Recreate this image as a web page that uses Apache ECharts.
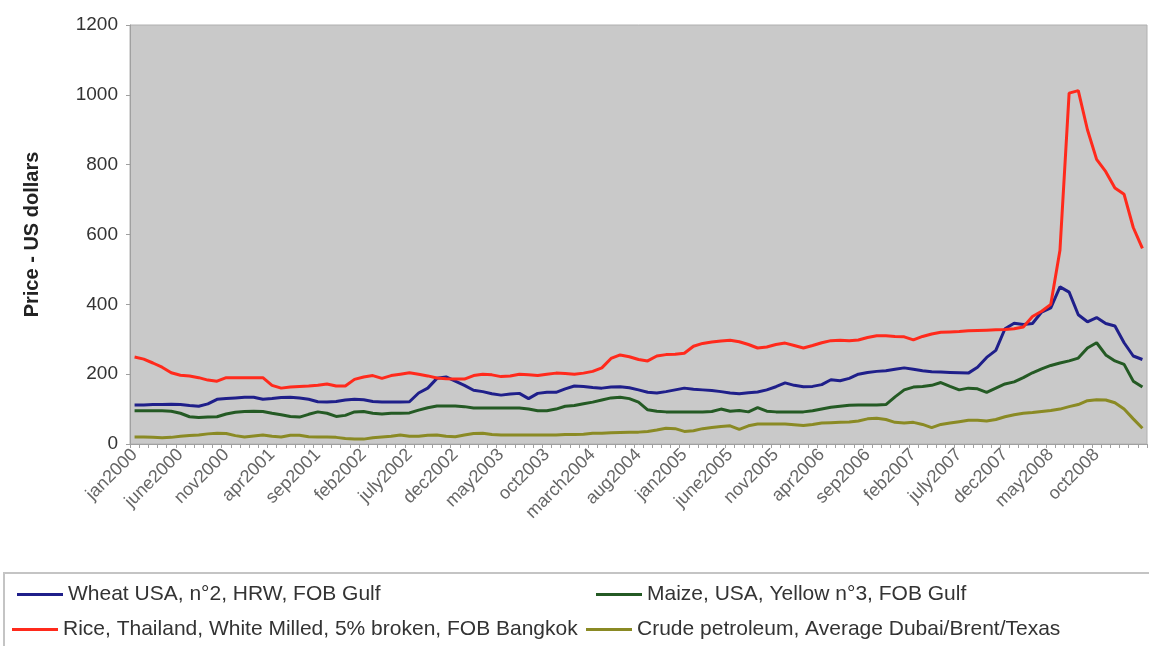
<!DOCTYPE html>
<html>
<head>
<meta charset="utf-8">
<script src="https://cdn.jsdelivr.net/npm/echarts@6/dist/echarts.min.js"></script>
<style>
    html, body {margin: 0; padding: 0; background: #fff;}
    #chart {width: 1149px; height: 646px;}
</style>
</head>
<body>
<div id="chart"></div>
<script>
// month names as they appear on the axis
const monthNames = ['jan', 'feb', 'march', 'apr', 'may', 'june', 'july', 'aug', 'sep', 'oct', 'nov', 'dec'];
const startYear = 2000;
const monthCount = 111; // jan2000 .. march2009
const lastLabelIndex = 105; // oct2008 is the last label shown

const yTicks = {min: 0, max: 1200, step: 200};

const seriesNames = [
    'Wheat USA, n°2, HRW, FOB Gulf',
    'Maize, USA, Yellow n°3, FOB Gulf',
    'Rice, Thailand, White Milled, 5% broken, FOB Bangkok',
    'Crude petroleum, Average Dubai/Brent/Texas'
];

// US dollars, one value per month
const wheat = [
    112, 112, 113, 113, 114, 113, 110, 108, 115, 128,
    130, 132, 134, 134, 128, 130, 133, 134, 132, 128,
    121, 120, 122, 126, 128, 127, 122, 120, 120, 120,
    121, 146, 160, 188, 192, 180, 168, 154, 150, 144,
    140, 143, 145, 130, 145, 148, 148, 158, 166, 165,
    162, 160, 163, 164, 161, 155, 148, 146, 150, 155,
    160, 157, 155, 153, 150, 146, 144, 147, 149, 155,
    164, 175, 168, 164, 165, 170, 184, 181, 188, 200,
    205, 208, 210, 214, 218, 214, 210, 207, 206, 205,
    204, 203, 220, 248, 268, 330, 346, 342, 345, 378,
    390, 450, 435, 370, 350, 362, 345, 338, 290, 252, 242
];
const maize = [
    95, 95, 95, 95, 94, 88, 78, 76, 77, 78,
    86, 91, 93, 94, 93, 88, 84, 79, 77, 85,
    92, 88, 79, 82, 92, 93, 88, 86, 88, 88,
    89, 97, 104, 109, 109, 109, 107, 103, 103, 103,
    103, 103, 103, 100, 95, 95, 100, 108, 110, 115,
    120, 126, 132, 134, 130, 120, 98, 94, 92, 92,
    92, 92, 92, 93, 100, 94, 96, 92, 104, 94,
    92, 92, 92, 92, 95, 100, 105, 108, 111, 112,
    112, 112, 113, 135, 155, 163, 165, 168, 176, 165,
    155, 160, 158, 148, 160, 172, 178, 190, 204, 215,
    225, 232, 238, 246, 275, 290, 255, 238, 228, 180, 163
];
const rice = [
    249, 243, 232, 220, 204, 197, 195, 190, 183, 180,
    190, 190, 190, 190, 190, 168, 160, 163, 165, 166,
    168, 172, 166, 166, 185, 192, 196, 188, 196, 200,
    204, 200, 195, 189, 187, 186, 186, 196, 200, 198,
    193, 195, 200, 198, 196, 200, 203, 202, 200, 203,
    208, 218, 245, 255, 250, 242, 238, 252, 256, 257,
    260, 280, 288, 292, 295, 297, 293, 285, 275, 278,
    285, 289, 282, 275, 282, 290, 296, 297, 296, 298,
    305, 310, 310, 308, 307, 298, 308, 315, 320, 321,
    322, 324, 325, 326, 327, 328, 330, 335, 365, 380,
    400, 555, 1005, 1012, 900, 815, 780, 733, 715, 620, 560
];
const crude = [
    20, 20, 19, 18, 19, 22, 24, 26, 29, 31,
    30, 24, 20, 23, 26, 22, 20, 25, 25, 21,
    20, 20, 19, 16, 14, 14, 18, 20, 22, 26,
    22, 22, 25, 26, 22, 21, 26, 30, 31, 27,
    26, 26, 26, 26, 26, 26, 26, 27, 27, 28,
    31, 31, 32, 33, 34, 34, 36, 40, 45, 44,
    36, 38, 44, 47, 50, 52, 42, 52, 57, 57,
    57, 57, 55, 53, 56, 60, 61, 62, 63, 66,
    72, 74, 70, 62, 60, 62, 56, 47, 56, 60,
    64, 68, 68, 66, 70, 78, 84, 88, 90, 93,
    96, 100, 107, 113, 124, 127, 126, 118, 100, 72, 45
];

const colors = ['#1f1f8a', '#245a24', '#ff2a1c', '#8a8a24'];

const months = [];
for (let i = 0; i < monthCount; i++) {
    months.push(monthNames[i % 12] + (startYear + Math.floor(i / 12)));
}

const chart = echarts.init(document.getElementById('chart'));

const legendText = {fontFamily: 'Liberation Sans', fontSize: 21, color: '#333'};
// one legend block per entry, laid out in two columns like the original
const legendPos = [
    {left: 17, top: 584},
    {left: 596, top: 584},
    {left: 12, top: 619},
    {left: 586, top: 619}
];

const option = {
    backgroundColor: '#ffffff',
    animation: false,
    grid: {
        left: 130,
        right: 2,
        top: 25,
        bottom: 202,
        show: true,
        backgroundColor: '#c9c9c9',
        borderColor: '#b0b0b0',
        borderWidth: 1
    },
    graphic: [{
        type: 'rect',
        shape: {x: 4, y: 573, width: 1160, height: 100},
        style: {fill: 'none', stroke: '#c4c4c4', lineWidth: 2},
        silent: true
    }],
    legend: seriesNames.map((name, i) => ({
        data: [name],
        left: legendPos[i].left,
        top: legendPos[i].top,
        padding: 0,
        icon: 'rect',
        itemWidth: 46,
        itemHeight: 3,
        textStyle: legendText
    })),
    xAxis: {
        type: 'category',
        data: months,
        boundaryGap: true,
        axisLine: {lineStyle: {color: '#a0a0a0', width: 1}},
        axisTick: {show: true, interval: 0, length: 4, lineStyle: {color: '#a0a0a0'}},
        axisLabel: {
            interval: (index) => index % 5 === 0 && index <= lastLabelIndex,
            rotate: 45,
            margin: 8,
            fontFamily: 'Liberation Sans',
            fontSize: 18,
            color: '#666'
        },
        splitLine: {show: false}
    },
    yAxis: {
        type: 'value',
        min: yTicks.min,
        max: yTicks.max,
        interval: yTicks.step,
        name: 'Price - US dollars',
        nameLocation: 'middle',
        nameGap: 88,
        nameTextStyle: {fontFamily: 'Liberation Sans', fontSize: 20, fontWeight: 'bold', color: '#222'},
        axisLine: {show: true, lineStyle: {color: '#a0a0a0'}},
        axisTick: {show: true, length: 4, lineStyle: {color: '#a0a0a0'}},
        axisLabel: {
            fontFamily: 'Liberation Sans',
            fontSize: 19,
            color: '#333',
            margin: 12,
            formatter: (v) => String(v)
        },
        splitLine: {show: false}
    },
    series: [wheat, maize, rice, crude].map((values, i) => ({
        name: seriesNames[i],
        type: 'line',
        data: values,
        symbol: 'none',
        color: colors[i],
        lineStyle: {width: 3, color: colors[i]}
    }))
};

chart.setOption(option);
</script>
</body>
</html>
